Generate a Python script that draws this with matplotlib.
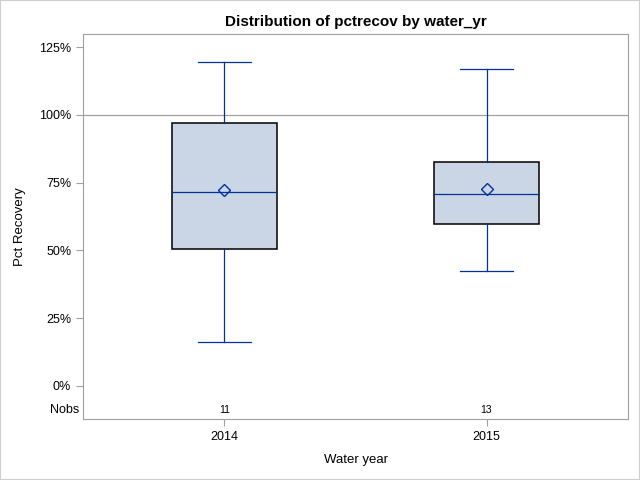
import numpy as np
import matplotlib.pyplot as plt
import matplotlib.transforms as mtransforms

plt.rcParams['font.family'] = ['Liberation Sans', 'DejaVu Sans']

# data
years = ['2014', '2015']
nobs = [11, 13]
whis_lo = [16.2, 42.3]
q1 = [50.4, 59.9]
median = [71.6, 70.9]
mean = [72.1, 72.7]
q3 = [97.1, 82.7]
whis_hi = [119.6, 116.9]
ref_line = 100

box_fill = '#CAD5E5'
blue = '#003399'
gray = '#A0A0A0'

stats = []
for i in range(len(years)):
    stats.append({'label': years[i], 'whislo': whis_lo[i], 'q1': q1[i], 'med': median[i],
                  'q3': q3[i], 'whishi': whis_hi[i], 'mean': mean[i], 'fliers': []})

fig = plt.figure(figsize=(6.4, 4.8), dpi=100)
ax = fig.add_axes([83/640, 1-419/480, (628-83)/640, (419-34)/480])

ax.axhline(ref_line, color=gray, linewidth=0.9, zorder=1)

pos = np.arange(len(years))
ax.bxp(stats, positions=pos, widths=0.40, showmeans=True, patch_artist=True,
       boxprops=dict(facecolor=box_fill, edgecolor='black', linewidth=1.1),
       medianprops=dict(color=blue, linewidth=0.9),
       whiskerprops=dict(color=blue, linewidth=0.9),
       capprops=dict(color=blue, linewidth=0.9),
       capwidths=0.20,
       meanprops=dict(marker='D', markerfacecolor='none', markeredgecolor=blue,
                      markersize=6, markeredgewidth=1.0),
       zorder=2)

ax.set_xlim(-0.54, 1.54)
ax.set_ylim(-12.2, 129.8)
ax.set_yticks([0, 25, 50, 75, 100, 125])
ax.set_yticklabels([f'{v}%' for v in [0, 25, 50, 75, 100, 125]])
ax.set_xticks(pos)
ax.set_xticklabels(years)

for s in ax.spines.values():
    s.set_color(gray)
ax.tick_params(axis='both', colors=gray, labelcolor='black', labelsize=9, length=5)

# Nobs row
nobs_y = -8.8
for i in range(len(years)):
    ax.text(pos[i], nobs_y, str(nobs[i]), ha='center', va='center', fontsize=7.5)
trans = mtransforms.blended_transform_factory(fig.transFigure, ax.transData)
ax.text(79/640, nobs_y, 'Nobs', ha='right', va='center', fontsize=9, transform=trans)

ax.set_title('Distribution of pctrecov by water_yr', fontsize=11, fontweight='bold', pad=6)
ax.set_xlabel('Water year', fontsize=9.5, labelpad=8)
ax.set_ylabel('Pct Recovery', fontsize=9.5, labelpad=9)

# light border around the whole image
fig.patches.append(plt.Rectangle((0, 0), 1, 1, transform=fig.transFigure, fill=False,
                                 edgecolor='#D0D0D0', linewidth=1.5))

fig.savefig('out.png', dpi=100)
